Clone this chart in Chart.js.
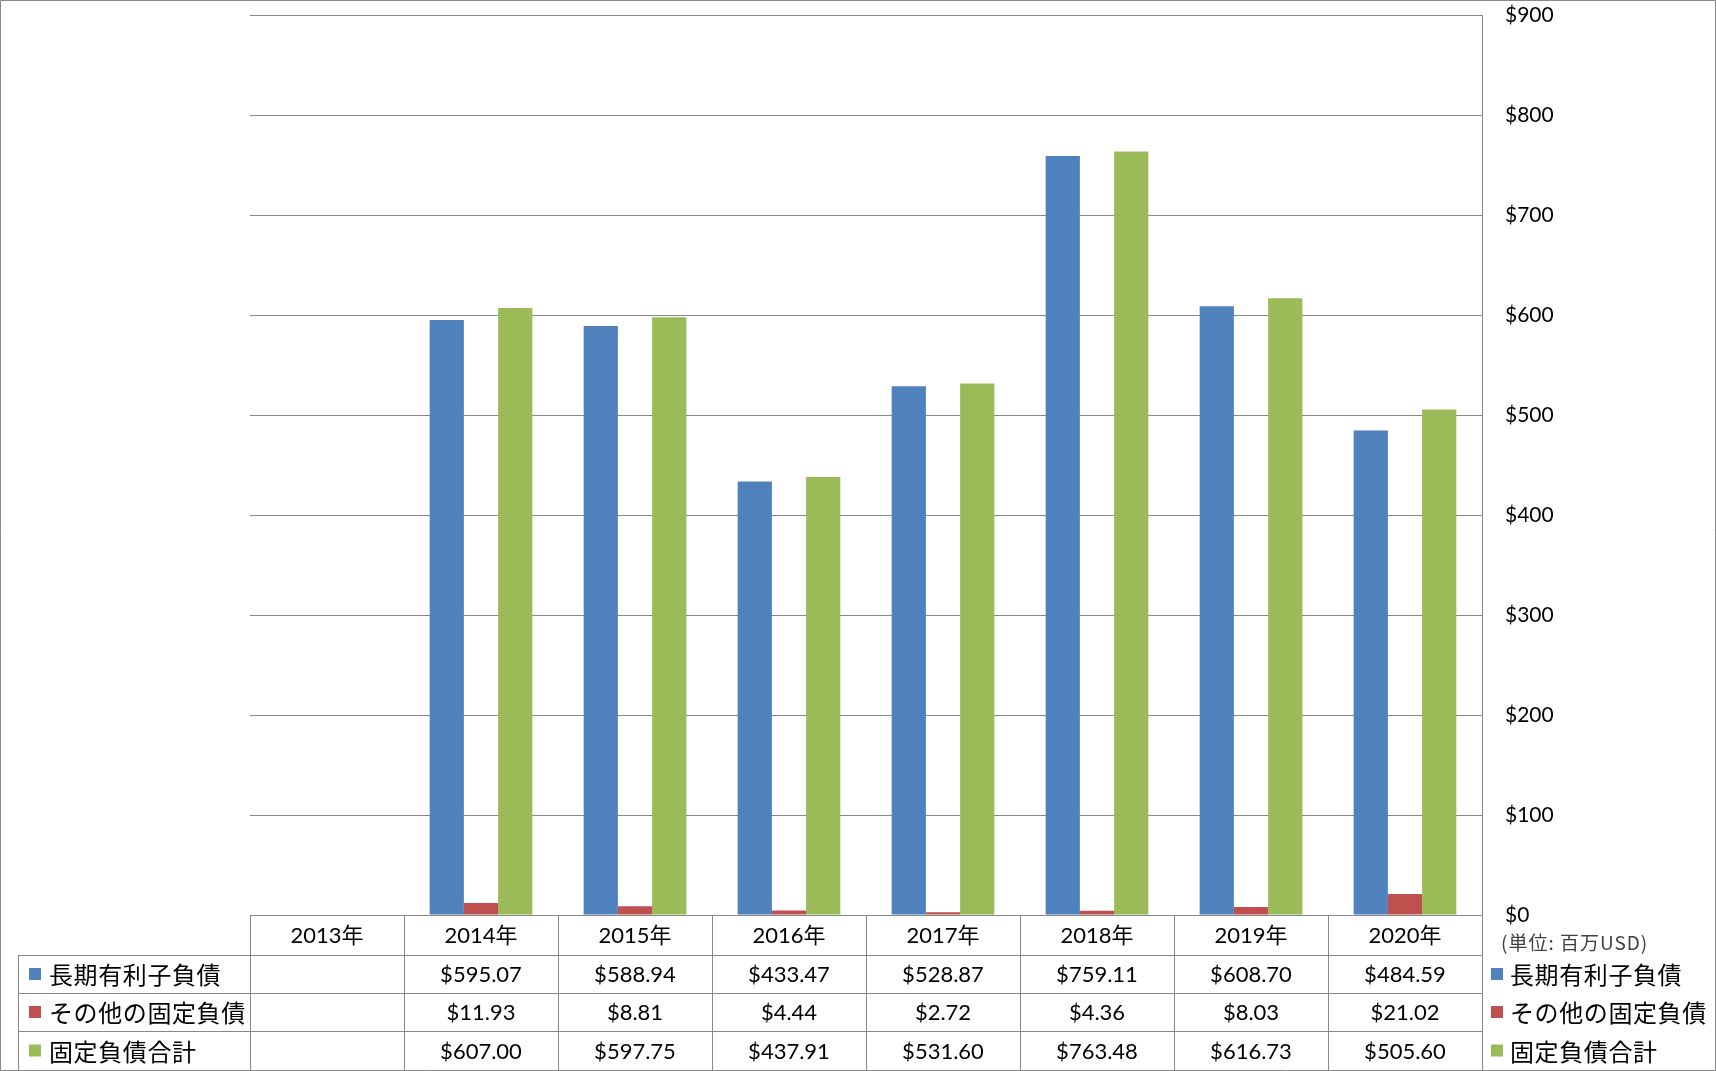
<!DOCTYPE html>
<html>
<head>
<meta charset="utf-8">
<script src="https://cdn.jsdelivr.net/npm/chart.js@4/dist/chart.umd.min.js"></script>
<style>
  html, body { margin: 0; padding: 0; background: #fff; }
  canvas { display: block; }
</style>
</head>
<body>
<canvas id="debtChart" width="1716" height="1071"></canvas>
<script>
  // categories and series
  var years = ['2013年', '2014年', '2015年', '2016年', '2017年', '2018年', '2019年', '2020年'];
  var longTermDebt = [null, 595.07, 588.94, 433.47, 528.87, 759.11, 608.70, 484.59];
  var otherFixed = [null, 11.93, 8.81, 4.44, 2.72, 4.36, 8.03, 21.02];
  var fixedTotal = [null, 607.00, 597.75, 437.91, 531.60, 763.48, 616.73, 505.60];
  var seriesNames = ['長期有利子負債', 'その他の固定負債', '固定負債合計'];
  var yTicks = [0, 100, 200, 300, 400, 500, 600, 700, 800, 900];
  var unitLabel = '(単位: 百万USD)';

  var barColors = ['#4F81BD', '#C0504D', '#9BBB59'];
  var lineColor = '#878787';
  var numFont = 'Lato, "Noto Sans CJK JP", sans-serif';
  var jpFont = '"Noto Sans CJK JP", sans-serif';

  function money(v) {
    return '$' + v.toFixed(2);
  }

  // draws the data table under the plot, plus legend on the right
  var dataTable = {
    id: 'dataTable',
    afterDraw: function (chart) {
      var ctx = chart.ctx;
      var area = chart.chartArea;
      var x = chart.scales.x;
      var colW = (area.right - area.left) / years.length;
      var top = area.bottom;
      var rowTops = [top, top + 40, top + 78, top + 116, top + 155];
      var leftEdge = 18;
      var seriesData = [longTermDebt, otherFixed, fixedTotal];

      ctx.save();
      ctx.strokeStyle = lineColor;
      ctx.lineWidth = 1;
      ctx.beginPath();
      // horizontal lines
      ctx.moveTo(area.left, top + 0.5); ctx.lineTo(area.right, top + 0.5);
      for (var r = 1; r < 4; r++) {
        ctx.moveTo(leftEdge, rowTops[r] + 0.5);
        ctx.lineTo(area.right, rowTops[r] + 0.5);
      }
      // vertical lines
      ctx.moveTo(leftEdge + 0.5, rowTops[1]); ctx.lineTo(leftEdge + 0.5, rowTops[4]);
      for (var i = 0; i <= years.length; i++) {
        var lx = Math.round(area.left + i * colW) + 0.5;
        ctx.moveTo(lx, top); ctx.lineTo(lx, rowTops[4]);
      }
      // outer frame
      ctx.rect(0.5, 0.5, chart.width - 1, chart.height - 1);
      ctx.stroke();

      ctx.fillStyle = '#000';
      ctx.textAlign = 'center';
      ctx.textBaseline = 'middle';
      ctx.font = '22px ' + numFont;
      years.forEach(function (y, i) {
        var cx = x.getPixelForValue(i);
        ctx.fillText(y, cx, (rowTops[0] + rowTops[1]) / 2 + 1);
        seriesData.forEach(function (arr, s) {
          if (arr[i] == null) return;
          ctx.fillText(money(arr[i]), cx, (rowTops[s + 1] + rowTops[s + 2]) / 2 + 1);
        });
      });

      // row labels and right legend
      ctx.textAlign = 'left';
      ctx.font = '24px ' + jpFont;
      ctx.letterSpacing = '0.6px';
      seriesNames.forEach(function (name, s) {
        var cy = (rowTops[s + 1] + rowTops[s + 2]) / 2;
        ctx.fillStyle = barColors[s];
        ctx.fillRect(29, cy - 6, 12, 12);
        ctx.fillRect(area.right + 9, cy - 6, 12, 12);
        ctx.fillStyle = '#000';
        ctx.fillText(name, 49, cy + 1);
        ctx.fillText(name, area.right + 28, cy + 1);
      });

      ctx.fillStyle = '#404040';
      ctx.font = '19px ' + jpFont;
      ctx.letterSpacing = '1px';
      ctx.fillText(unitLabel, area.right + 19, top + 28);
      ctx.restore();
    }
  };

  var ctx = document.getElementById('debtChart').getContext('2d');

  new Chart(ctx, {
    type: 'bar',
    data: {
      labels: years,
      datasets: [
        { label: seriesNames[0], data: longTermDebt, backgroundColor: barColors[0] },
        { label: seriesNames[1], data: otherFixed, backgroundColor: barColors[1] },
        { label: seriesNames[2], data: fixedTotal, backgroundColor: barColors[2] }
      ]
    },
    options: {
      responsive: false,
      animation: false,
      categoryPercentage: 3 / 4.5,
      barPercentage: 1,
      layout: { padding: { left: 250, top: 15, bottom: 156, right: 0 } },
      plugins: {
        legend: { display: false },
        tooltip: { enabled: false }
      },
      scales: {
        x: { display: false },
        y: {
          position: 'right',
          min: 0,
          max: 900,
          afterFit: function (scale) {
            scale.width = 234;
            scale.paddingTop = 0;
            scale.paddingBottom = 0;
          },
          afterBuildTicks: function (scale) {
            scale.ticks = yTicks.map(function (v) { return { value: v }; });
          },
          ticks: {
            padding: 23,
            color: '#000',
            font: { family: numFont, size: 21 },
            callback: function (v) { return '$' + v; }
          },
          grid: { color: lineColor, drawTicks: false },
          border: { color: lineColor }
        }
      }
    },
    plugins: [dataTable]
  });
</script>
</body>
</html>
